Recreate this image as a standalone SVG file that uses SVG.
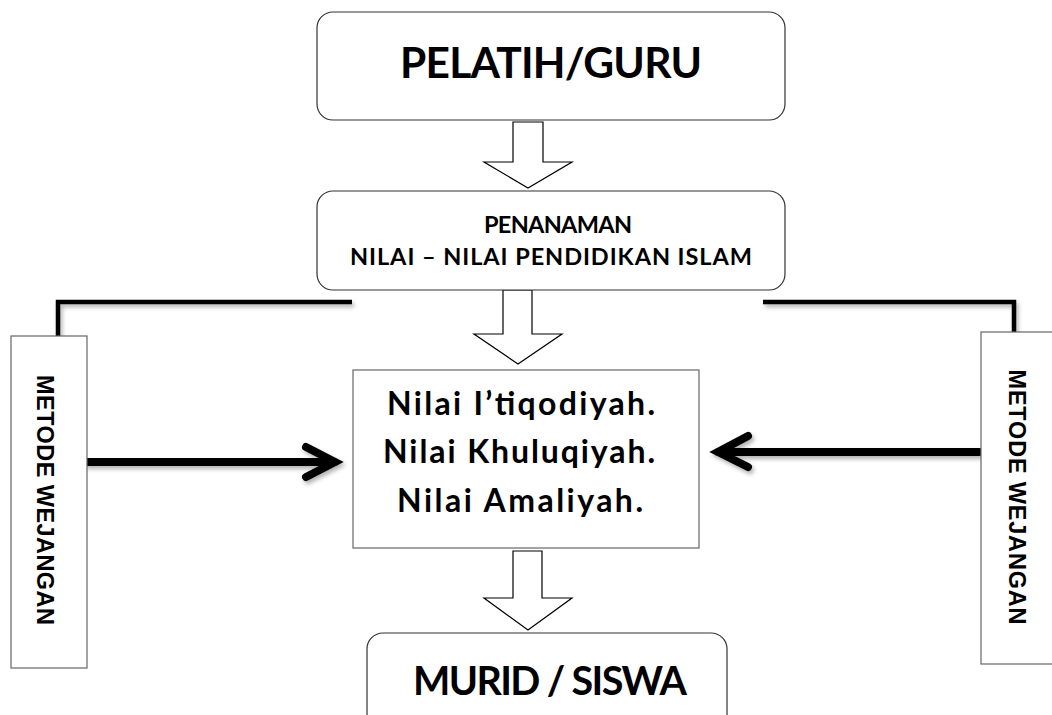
<svg xmlns="http://www.w3.org/2000/svg" width="1052" height="715" viewBox="0 0 1052 715">
<style>
.rbox{fill:#fff;stroke:#333;stroke-width:1.2}
.sbox{fill:#fff;stroke:#666;stroke-width:1.2}
.hollow{fill:#fff;stroke:#000;stroke-width:1.2;stroke-linejoin:miter}
.lbl{font-family:Lato,"Open Sans",sans-serif;font-weight:bold;fill:#000;text-anchor:middle}
.side{font-family:"Liberation Sans",Arial,sans-serif;font-weight:bold;fill:#000;text-anchor:middle;font-size:23.5px}
.thick{fill:none;stroke:#000;stroke-width:8;stroke-linecap:round;stroke-linejoin:miter}
.bracket{fill:none;stroke:#000;stroke-width:4.5;stroke-linejoin:miter}
</style>
<defs>
<filter id="sh" x="-10%" y="-50%" width="120%" height="250%">
<feDropShadow dx="2" dy="3" stdDeviation="2" flood-color="#000" flood-opacity="0.3"/>
</filter>
</defs>
<rect width="1052" height="715" fill="#fff"/>
<g id="connectors">
<polygon class="hollow" points="513,122 543,122 543,162 572,162 528,188 484,162 513,162"/>
<polygon class="hollow" points="503,290 532,290 532,334 562,334 518,364 474,334 503,334"/>
<polygon class="hollow" points="513,551 542,551 542,598 572,598 528,630 484,598 513,598"/>
<g filter="url(#sh)">
<path class="bracket" d="M58,336 V302 H352"/>
<path class="bracket" d="M763,302 H1014 V332"/>
<path class="thick" d="M87,462 H335 M306,447 L335,462 L306,477"/>
<path class="thick" d="M979,452 H718 M748,436 L718,452 L748,467"/>
</g>
</g>
<g id="node-pelatih">
<rect class="rbox" x="317" y="12" width="468" height="108" rx="16"/>
<text class="lbl" x="551" y="78" font-size="42.5" textLength="302">PELATIH/GURU</text>
</g>
<g id="node-penanaman">
<rect class="rbox" x="317" y="191" width="468" height="99" rx="16"/>
<text class="lbl" x="558" y="233" font-size="23.5" textLength="148">PENANAMAN</text>
<text class="lbl" x="551" y="265" font-size="23.5" textLength="402">NILAI – NILAI PENDIDIKAN ISLAM</text>
</g>
<g id="node-nilai">
<rect class="sbox" x="353" y="370" width="346" height="178"/>
<text class="lbl" x="521" y="415" font-size="32" textLength="268">Nilai I’tiqodiyah.</text>
<text class="lbl" x="519" y="463" font-size="32" textLength="272">Nilai Khuluqiyah.</text>
<text class="lbl" x="520" y="512" font-size="32" textLength="246">Nilai Amaliyah.</text>
</g>
<g id="node-murid">
<rect class="rbox" x="367" y="633" width="360" height="110" rx="16"/>
<text class="lbl" x="550" y="695" font-size="39.5" textLength="274">MURID / SISWA</text>
</g>
<g id="node-metode-left">
<rect class="sbox" x="11" y="336" width="76" height="332"/>
<text class="side" transform="translate(37,500) rotate(90)" x="0" y="0" textLength="250">METODE WEJANGAN</text>
</g>
<g id="node-metode-right">
<rect class="sbox" x="981" y="332" width="80" height="332"/>
<text class="side" transform="translate(1009,497) rotate(90)" x="0" y="0" textLength="255">METODE WEJANGAN</text>
</g>
</svg>
